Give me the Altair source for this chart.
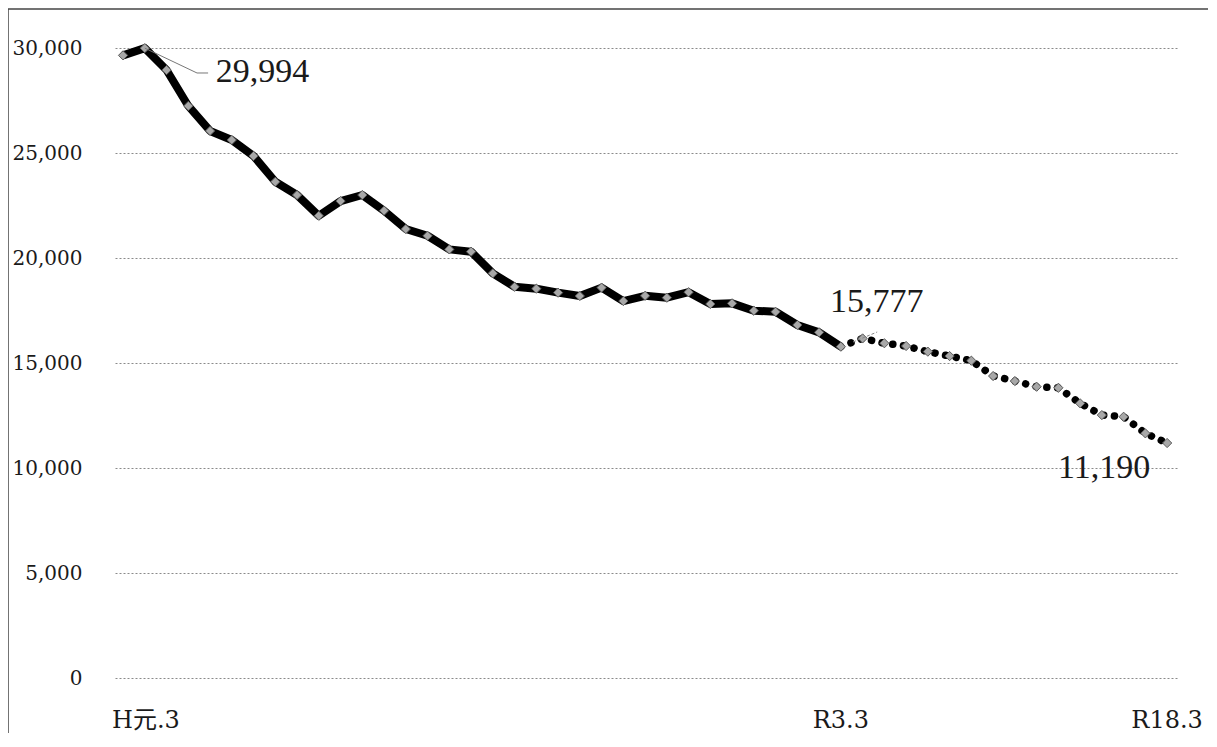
import altair as alt
import pandas as pd

# ---- data ----
actual_values = [29650, 29994, 28950, 27240, 26050, 25620, 24860, 23630, 23000, 22010,
                 22710, 23000, 22250, 21380, 21060, 20410, 20300, 19270, 18630, 18540,
                 18350, 18190, 18590, 17950, 18200, 18110, 18370, 17810, 17840, 17490,
                 17440, 16810, 16460, 15777]
projected_values = [15777, 16170, 15940, 15810, 15540, 15330, 15110, 14380, 14140, 13870,
                    13820, 13080, 12520, 12440, 11650, 11190]
tick_index = [0, 33, 48]
tick_labels = ["H元.3", "R3.3", "R18.3"]
y_ticks = [0, 5000, 10000, 15000, 20000, 25000, 30000]

actual = pd.DataFrame({"i": list(range(len(actual_values))), "v": actual_values})
start = len(actual_values) - 1
projected = pd.DataFrame({"i": list(range(start, start + len(projected_values))), "v": projected_values})
points = pd.concat([actual, projected.iloc[1:]], ignore_index=True)
ticks = pd.DataFrame({"i": tick_index, "t": tick_labels})

W, H = 1063, 630
xs = alt.Scale(domain=[-0.37, 48.5], nice=False, zero=False)
ys = alt.Scale(domain=[0, 30000], nice=False)
X = alt.X("i:Q", scale=xs, axis=None)
Y = alt.Y("v:Q", scale=ys, axis=alt.Axis(values=y_ticks, format=",d", grid=True, domain=False,
                                          ticks=False, labelFont="DejaVu Serif", labelFontSize=20,
                                          labelColor="#1a1a1a", labelPadding=33, title=None,
                                          gridColor="#8a8a8a", gridDash=[2, 2], gridWidth=1))

solid = alt.Chart(actual).mark_line(color="black", strokeWidth=8, strokeJoin="round").encode(x=X, y=Y)
dotted = alt.Chart(projected).mark_line(color="black", strokeWidth=7.5, strokeCap="round",
                                         strokeDash=[0.1, 10.7]).encode(x=X, y=Y)
markers = alt.Chart(points).mark_point(shape="diamond", filled=True, size=85, color="#a8a8a8",
                                        stroke="#5a5a5a", strokeWidth=1, opacity=1).encode(x=X, y=Y)

# leader lines for annotations
lead1 = pd.DataFrame({"i": [1, 3.40, 3.91], "v": [29994, 28810, 28810]})
lead2 = pd.DataFrame({"i": [33.56, 34.67], "v": [16000, 16476]})
leader1 = alt.Chart(lead1).mark_line(color="#777", strokeWidth=1).encode(x=X, y=Y)
leader2 = alt.Chart(lead2).mark_line(color="#888", strokeWidth=1, strokeDash=[3, 2]).encode(x=X, y=Y)

def ann(df, **kw):
    return alt.Chart(df).mark_text(font="Liberation Serif", fontSize=34, color="#1a1a1a", **kw).encode(
        x=X, y=Y, text="t:N")

a1 = ann(pd.DataFrame({"i": [1], "v": [29994], "t": ["29,994"]}), align="left", baseline="middle", dx=71, dy=24)
a2 = ann(pd.DataFrame({"i": [33], "v": [15777], "t": ["15,777"]}), align="center", baseline="alphabetic", dx=36, dy=-35)
a3 = ann(pd.DataFrame({"i": [48], "v": [11190], "t": ["11,190"]}), align="center", baseline="alphabetic", dx=-63, dy=35)

xl_font = "DejaVu Serif, Noto Sans CJK JP"
xlab_first = alt.Chart(ticks.iloc[:1]).mark_text(font=xl_font, fontSize=24, color="#1a1a1a", align="left",
                                                 baseline="alphabetic", dx=-11).encode(
    x=X, y=alt.value(H + 50), text="t:N")
xlab_rest = alt.Chart(ticks.iloc[1:]).mark_text(font=xl_font, fontSize=24, color="#1a1a1a", align="center",
                                                baseline="alphabetic").encode(
    x=X, y=alt.value(H + 50), text="t:N")

frame_left = alt.Chart(ticks.iloc[:1]).mark_rule(color="#444", strokeWidth=1.5).encode(
    x=alt.value(-107), y=alt.value(-39), y2=alt.value(H + 70))
frame_top = alt.Chart(ticks.iloc[:1]).mark_rule(color="#444", strokeWidth=1.5).encode(
    x=alt.value(-107), x2=alt.value(W + 38), y=alt.value(-39))
frame_right = alt.Chart(ticks.iloc[:1]).mark_rule(color="#888", strokeWidth=1).encode(
    x=alt.value(W + 38), y=alt.value(-39), y2=alt.value(42))

chart = alt.layer(
    solid, dotted, markers, leader1, leader2, a1, a2, a3, xlab_first, xlab_rest,
    frame_left, frame_top, frame_right
).properties(
    width=W, height=H,
    autosize=alt.AutoSizeParams(type="none"),
    padding={"left": 107, "top": 40, "right": 30, "bottom": 55},
    background="white",
).configure_view(stroke=None)

chart.save("out.html", embed_options={"renderer": "svg", "actions": False})
